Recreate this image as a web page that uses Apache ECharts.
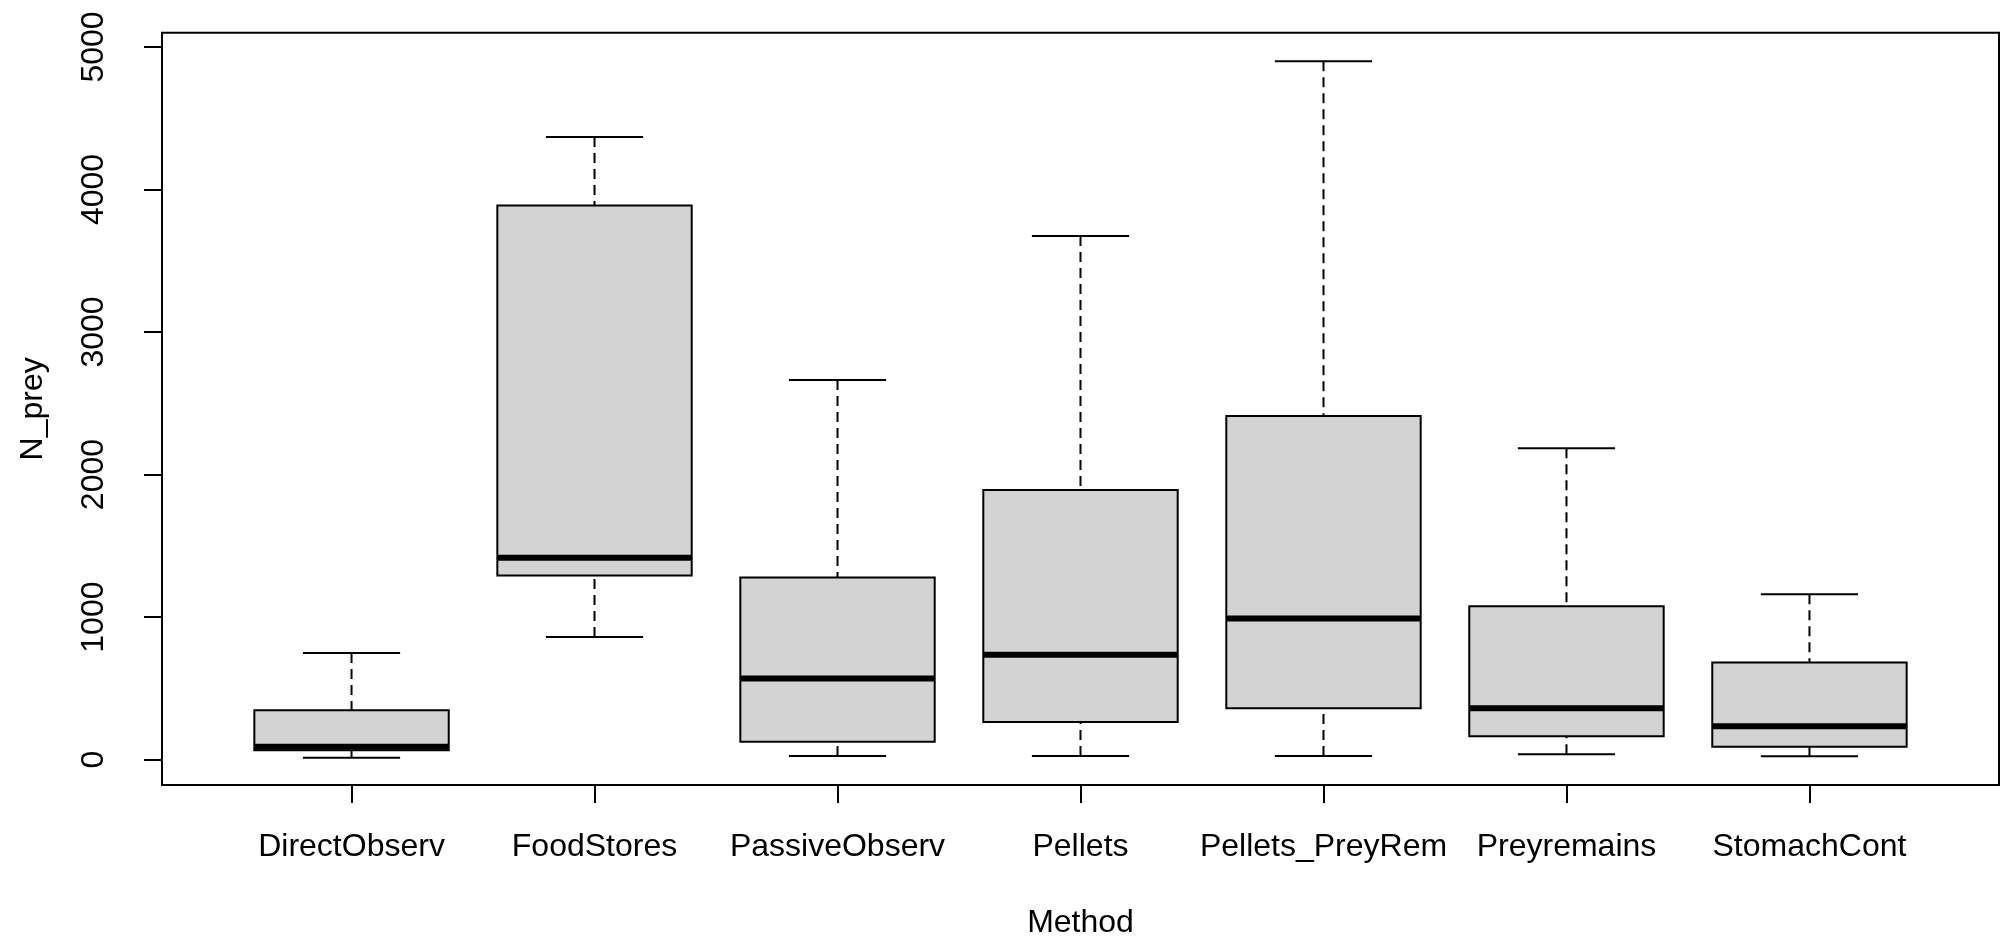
<!DOCTYPE html>
<html>
<head>
<meta charset="utf-8">
<script src="https://cdn.jsdelivr.net/npm/echarts@6/dist/echarts.min.js"></script>
<style>
  html, body { margin: 0; padding: 0; background: #fff; }
  #chart { width: 2013px; height: 939px; }
</style>
</head>
<body>
<div id="chart"></div>
<script>
// ---- data ----
const categories = ['DirectObserv', 'FoodStores', 'PassiveObserv', 'Pellets', 'Pellets_PreyRem', 'Preyremains', 'StomachCont'];
const whiskerLow  = [14, 861, 25, 25, 25, 38, 24];
const quartile1   = [65, 1292, 125, 264, 361, 164, 91];
const medians     = [90, 1417, 569, 736, 990, 361, 234];
const quartile3   = [347, 3888, 1278, 1892, 2410, 1076, 681];
const whiskerHigh = [748, 4368, 2663, 3674, 4899, 2185, 1160];
const yTicks = [0, 1000, 2000, 3000, 4000, 5000];
const xTicks = categories.map((_, i) => i + 1);

const FONT = "'Liberation Sans', Arial, sans-serif";
const data = categories.map((c, i) => [i + 1, whiskerLow[i], quartile1[i], medians[i], quartile3[i], whiskerHigh[i]]);

const chart = echarts.init(document.getElementById('chart'));
chart.setOption({
  animation: false,
  backgroundColor: '#fff',
  grid: { left: 162, right: 14, top: 32.7, bottom: 154, outerBoundsMode: 'none', containLabel: false, show: true, borderColor: '#000', borderWidth: 2, backgroundColor: 'transparent' },
  xAxis: {
    type: 'value', min: 0.22, max: 7.78,
    axisLine: { show: false, onZero: false }, splitLine: { show: false },
    axisTick: { show: true, customValues: xTicks, length: 18, lineStyle: { color: '#000', width: 2 } },
    axisLabel: { customValues: xTicks, formatter: v => categories[Math.round(v) - 1] || '', margin: 46, fontSize: 32, color: '#000', fontFamily: FONT },
    name: 'Method', nameLocation: 'middle', nameGap: 122,
    nameTextStyle: { fontSize: 32, color: '#000', fontFamily: FONT }
  },
  yAxis: {
    type: 'value', min: -178, max: 5100,
    axisLine: { show: false, onZero: false }, splitLine: { show: false },
    axisTick: { show: true, customValues: yTicks, length: 18, lineStyle: { color: '#000', width: 2 } },
    axisLabel: { customValues: yTicks, formatter: v => String(v), rotate: 90, margin: 52, fontSize: 32, color: '#000', fontFamily: FONT },
    name: 'N_prey', nameLocation: 'middle', nameGap: 113,
    nameTextStyle: { fontSize: 32, color: '#000', fontFamily: FONT }
  },
  series: [{
    type: 'custom',
    data: data,
    encode: { x: 0, y: [1, 2, 3, 4, 5] },
    renderItem: function (params, api) {
      const x = api.value(0);
      const pLow = api.coord([x, api.value(1)]);
      const pQ1 = api.coord([x, api.value(2)]);
      const pMed = api.coord([x, api.value(3)]);
      const pQ3 = api.coord([x, api.value(4)]);
      const pHigh = api.coord([x, api.value(5)]);
      const cx = pMed[0];
      const halfBox = api.size([0.8, 0])[0] / 2;
      const halfCap = halfBox / 2;
      const solid = { stroke: '#000', lineWidth: 2, fill: null };
      const dashed = { stroke: '#000', lineWidth: 2, lineDash: [10, 6], fill: null };
      return {
        type: 'group',
        children: [
          { type: 'line', shape: { x1: cx, y1: pHigh[1], x2: cx, y2: pQ3[1] }, style: dashed },
          { type: 'line', shape: { x1: cx, y1: pLow[1], x2: cx, y2: pQ1[1] }, style: dashed },
          { type: 'line', shape: { x1: cx - halfCap, y1: pHigh[1], x2: cx + halfCap, y2: pHigh[1] }, style: solid },
          { type: 'line', shape: { x1: cx - halfCap, y1: pLow[1], x2: cx + halfCap, y2: pLow[1] }, style: solid },
          { type: 'rect', shape: { x: cx - halfBox, y: pQ3[1], width: 2 * halfBox, height: pQ1[1] - pQ3[1] }, style: { fill: '#d3d3d3', stroke: '#000', lineWidth: 2 } },
          { type: 'line', shape: { x1: cx - halfBox, y1: pMed[1], x2: cx + halfBox, y2: pMed[1] }, style: { stroke: '#000', lineWidth: 6 } }
        ]
      };
    }
  }]
});
</script>
</body>
</html>
